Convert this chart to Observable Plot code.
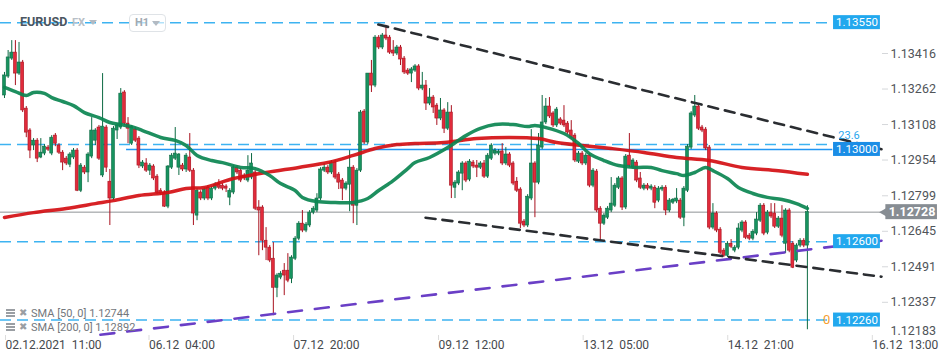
<!DOCTYPE html>
<html><head><meta charset="utf-8">
<script src="https://cdn.jsdelivr.net/npm/d3@7"></script>
<script src="https://cdn.jsdelivr.net/npm/@observablehq/plot@0.6"></script>
<style>
body{margin:0;background:#fff;font-family:Roboto,"Noto Sans",sans-serif;}
#wrap{position:relative;width:950px;height:361px;overflow:hidden;background:#fff;}
.ov{position:absolute;white-space:nowrap;line-height:1;}
.tri{position:absolute;width:0;height:0;border-left:4px solid transparent;border-right:4px solid transparent;border-top:5px solid #b3bac2;}
.h1box{position:absolute;border:1px solid #dfe3e7;border-radius:4px;background:rgba(255,255,255,0.6);}
.ico{position:absolute;width:9px;height:8px;}
.ico i{display:block;height:2px;background:#9a9ea3;margin-bottom:1px;}
</style></head><body>
<div id="wrap">
  <div id="chart"></div>
  <div class="ov" style="left:20px;top:16px;font-weight:700;font-size:12.5px;color:#4b5661;">EURUSD</div>
  <div class="ov" style="left:72px;top:17px;font-weight:700;font-size:11px;color:#b8bfc7;">FX</div>
  <div class="tri" style="left:89px;top:20px;"></div>
  <div class="h1box" style="left:129px;top:14px;width:35px;height:16px;"></div>
  <div class="ov" style="left:135px;top:17px;font-size:11px;font-weight:700;color:#a3aab2;">H1</div>
  <div class="tri" style="left:152px;top:21px;"></div>
  <div class="ico" style="left:6px;top:309px;"><i></i><i></i><i></i></div>
  <div class="ov" style="left:19px;top:308px;font-size:10px;color:#9a9ea3;">✖</div>
  <div class="ov" id="leg1" style="left:31px;top:308px;font-size:11px;color:#73777c;"></div>
  <div class="ico" style="left:6px;top:323px;"><i></i><i></i><i></i></div>
  <div class="ov" style="left:19px;top:322px;font-size:10px;color:#9a9ea3;">✖</div>
  <div class="ov" id="leg2" style="left:31px;top:322px;font-size:11px;color:#73777c;"></div>
</div>
<script>
// ---- candle data (hourly EURUSD) ----
const opens = [
1.13234,1.13316,1.13394,1.13420,1.13329,1.13377,1.13177,1.13082,1.13017,1.13038,
1.12965,1.12982,1.13008,1.12982,1.13060,1.13017,1.12986,1.12960,1.12934,1.12965,
1.12995,1.12821,1.12921,1.12900,1.12969,1.13038,1.13095,1.12887,1.13095,1.12860,
1.12787,1.13082,1.13095,1.13247,1.13112,1.13025,1.13086,1.13047,1.12926,1.12939,
1.12908,1.12926,1.12882,1.12821,1.12813,1.12752,1.12921,1.12960,1.12921,1.12930,
1.12913,1.12965,1.12908,1.12713,1.12813,1.12787,1.12834,1.12787,1.12830,1.12852,
1.12843,1.12839,1.12791,1.12813,1.12921,1.12908,1.12887,1.12865,1.12878,1.12900,
1.12748,1.12748,1.12604,1.12574,1.12526,1.12400,1.12444,1.12474,1.12474,1.12439,
1.12526,1.12613,1.12678,1.12648,1.12670,1.12726,1.12735,1.12787,1.12908,1.12921,
1.12900,1.12943,1.12891,1.12865,1.12830,1.12847,1.12921,1.12756,1.12908,1.13164,
1.13030,1.13329,1.13277,1.13485,1.13442,1.13494,1.13485,1.13429,1.13416,1.13442,
1.13394,1.13342,1.13329,1.13342,1.13360,1.13264,1.13277,1.13199,1.13225,1.13190,
1.13134,1.13169,1.13090,1.13160,1.12834,1.12852,1.12895,1.12939,1.12869,1.12943,
1.12930,1.12921,1.12939,1.12882,1.12960,1.12982,1.12982,1.12991,1.12939,1.12978,
1.12939,1.12860,1.12826,1.12687,1.12670,1.12787,1.12939,1.12856,1.13008,1.13117,
1.13186,1.13156,1.13104,1.13130,1.13125,1.13112,1.13082,1.13060,1.12947,1.12982,
1.12939,1.12973,1.12843,1.12904,1.12743,1.12678,1.12704,1.12735,1.12756,1.12834,
1.12874,1.12748,1.12973,1.12921,1.12943,1.12874,1.12830,1.12843,1.12830,1.12834,
1.12778,1.12826,1.12834,1.12735,1.12769,1.12774,1.12778,1.12704,1.12821,1.13008,
1.13147,1.13186,1.13095,1.13086,1.13008,1.12661,1.12722,1.12652,1.12561,1.12539,
1.12591,1.12561,1.12574,1.12648,1.12683,1.12626,1.12613,1.12635,1.12691,1.12756,
1.12639,1.12726,1.12722,1.12665,1.12700,1.12591,1.12735,1.12591,1.12518,1.12583,
1.12604,1.12583];
const highs = [
1.13334,1.13429,1.13472,1.13472,1.13464,1.13386,1.13186,1.13090,1.13047,1.13047,
1.13047,1.13021,1.13017,1.13060,1.13069,1.13025,1.12995,1.12969,1.12986,1.13004,
1.13004,1.12939,1.12930,1.12986,1.13138,1.13090,1.13104,1.13329,1.13104,1.12913,
1.13099,1.13112,1.13264,1.13255,1.13138,1.13104,1.13095,1.13056,1.12952,1.12960,
1.12939,1.12934,1.12891,1.12830,1.12821,1.12930,1.12982,1.13095,1.12982,1.12939,
1.12982,1.13069,1.12917,1.12830,1.12821,1.12834,1.12843,1.12839,1.12856,1.12869,
1.12852,1.12847,1.12830,1.12930,1.12930,1.12917,1.12895,1.12973,1.12982,1.12908,
1.12778,1.12756,1.12661,1.12583,1.12596,1.12461,1.12470,1.12505,1.12548,1.12539,
1.12622,1.12687,1.12735,1.12683,1.12735,1.12752,1.12808,1.12921,1.12939,1.12930,
1.12952,1.12952,1.12900,1.12874,1.12860,1.12995,1.12930,1.12917,1.13169,1.13173,
1.13329,1.13386,1.13494,1.13494,1.13503,1.13538,1.13494,1.13472,1.13451,1.13451,
1.13403,1.13351,1.13355,1.13368,1.13368,1.13334,1.13299,1.13264,1.13234,1.13199,
1.13221,1.13177,1.13203,1.13190,1.12865,1.12908,1.12947,1.12947,1.12956,1.12952,
1.12952,1.12947,1.12952,1.12982,1.13025,1.13004,1.12999,1.13025,1.13008,1.12986,
1.12947,1.12878,1.12834,1.12696,1.12804,1.13086,1.12947,1.13069,1.13234,1.13221,
1.13225,1.13164,1.13182,1.13138,1.13190,1.13121,1.13125,1.13069,1.12991,1.12991,
1.12982,1.12982,1.12917,1.12913,1.12752,1.12722,1.12752,1.12878,1.12852,1.12882,
1.12882,1.12978,1.13069,1.12960,1.12952,1.12900,1.12852,1.12852,1.12847,1.12843,
1.12839,1.12843,1.12843,1.12787,1.12787,1.12830,1.12787,1.12839,1.13021,1.13164,
1.13234,1.13195,1.13104,1.13095,1.13017,1.12765,1.12730,1.12661,1.12570,1.12600,
1.12609,1.12583,1.12678,1.12691,1.12691,1.12635,1.12652,1.12726,1.12765,1.12765,
1.12735,1.12765,1.12765,1.12709,1.12756,1.12743,1.12743,1.12600,1.12591,1.12613,
1.12613,1.12756];
const lows = [
1.13221,1.13308,1.13386,1.13277,1.13321,1.13160,1.13051,1.12960,1.12995,1.12943,
1.12960,1.12973,1.12991,1.12973,1.13012,1.12978,1.12908,1.12930,1.12921,1.12956,
1.12817,1.12813,1.12891,1.12856,1.12960,1.13017,1.12952,1.12878,1.12900,1.12670,
1.12778,1.13043,1.13086,1.13104,1.13025,1.13017,1.13030,1.12917,1.12917,1.12900,
1.12887,1.12865,1.12804,1.12800,1.12748,1.12743,1.12913,1.12952,1.12887,1.12904,
1.12900,1.12900,1.12670,1.12691,1.12778,1.12778,1.12778,1.12778,1.12821,1.12826,
1.12821,1.12813,1.12756,1.12804,1.12891,1.12856,1.12865,1.12856,1.12869,1.12735,
1.12539,1.12561,1.12518,1.12509,1.12279,1.12357,1.12435,1.12366,1.12422,1.12418,
1.12518,1.12604,1.12639,1.12639,1.12661,1.12717,1.12726,1.12778,1.12900,1.12891,
1.12891,1.12869,1.12826,1.12778,1.12821,1.12730,1.12678,1.12670,1.12900,1.13021,
1.13021,1.13247,1.13268,1.13433,1.13433,1.13472,1.13412,1.13403,1.13407,1.13364,
1.13325,1.13321,1.13290,1.13334,1.13255,1.13255,1.13169,1.13190,1.13156,1.13104,
1.13125,1.13069,1.13082,1.12787,1.12787,1.12843,1.12821,1.12856,1.12860,1.12917,
1.12878,1.12913,1.12874,1.12874,1.12952,1.12973,1.12973,1.12930,1.12930,1.12921,
1.12843,1.12813,1.12657,1.12661,1.12661,1.12778,1.12704,1.12847,1.12999,1.13108,
1.13134,1.13095,1.13095,1.13104,1.13095,1.13064,1.13043,1.12943,1.12939,1.12930,
1.12930,1.12834,1.12834,1.12726,1.12604,1.12670,1.12696,1.12726,1.12748,1.12826,
1.12735,1.12739,1.12921,1.12913,1.12856,1.12826,1.12821,1.12821,1.12821,1.12743,
1.12769,1.12817,1.12713,1.12726,1.12761,1.12765,1.12696,1.12665,1.12813,1.12999,
1.13138,1.13082,1.13073,1.12995,1.12652,1.12652,1.12639,1.12544,1.12531,1.12531,
1.12570,1.12552,1.12565,1.12639,1.12609,1.12604,1.12604,1.12626,1.12683,1.12626,
1.12630,1.12700,1.12657,1.12657,1.12617,1.12548,1.12552,1.12483,1.12509,1.12574,
1.12574,1.12218];
const closes = [
1.13321,1.13399,1.13420,1.13329,1.13377,1.13169,1.13073,1.12995,1.13038,1.12960,
1.12986,1.13012,1.12999,1.13051,1.13025,1.12986,1.12943,1.12939,1.12978,1.12995,
1.12821,1.12930,1.12900,1.12978,1.13082,1.13082,1.12960,1.13099,1.12921,1.12787,
1.13090,1.13104,1.13242,1.13112,1.13090,1.13099,1.13038,1.12930,1.12943,1.12908,
1.12930,1.12874,1.12813,1.12808,1.12752,1.12926,1.12973,1.12982,1.12978,1.12913,
1.12973,1.12908,1.12722,1.12821,1.12787,1.12826,1.12787,1.12830,1.12847,1.12834,
1.12830,1.12830,1.12821,1.12921,1.12900,1.12865,1.12874,1.12908,1.12939,1.12743,
1.12735,1.12604,1.12574,1.12518,1.12400,1.12453,1.12461,1.12453,1.12431,1.12531,
1.12613,1.12678,1.12648,1.12674,1.12726,1.12743,1.12787,1.12913,1.12921,1.12900,
1.12943,1.12878,1.12856,1.12830,1.12852,1.12921,1.12756,1.12908,1.13160,1.13030,
1.13329,1.13277,1.13485,1.13442,1.13494,1.13481,1.13420,1.13416,1.13442,1.13390,
1.13334,1.13329,1.13347,1.13360,1.13264,1.13277,1.13199,1.13225,1.13182,1.13134,
1.13169,1.13090,1.13160,1.12843,1.12856,1.12900,1.12939,1.12865,1.12947,1.12926,
1.12921,1.12939,1.12882,1.12973,1.13017,1.12995,1.12991,1.12939,1.12978,1.12930,
1.12852,1.12821,1.12678,1.12670,1.12795,1.12939,1.12856,1.13017,1.13117,1.13186,
1.13143,1.13104,1.13173,1.13112,1.13104,1.13073,1.13051,1.12952,1.12982,1.12939,
1.12973,1.12843,1.12908,1.12735,1.12678,1.12713,1.12743,1.12765,1.12843,1.12874,
1.12748,1.12969,1.12930,1.12952,1.12865,1.12834,1.12843,1.12830,1.12839,1.12769,
1.12830,1.12834,1.12735,1.12778,1.12782,1.12787,1.12704,1.12830,1.13012,1.13156,
1.13186,1.13090,1.13082,1.13004,1.12661,1.12722,1.12648,1.12552,1.12539,1.12591,
1.12578,1.12574,1.12657,1.12683,1.12617,1.12613,1.12643,1.12696,1.12756,1.12635,
1.12726,1.12709,1.12665,1.12700,1.12626,1.12735,1.12561,1.12487,1.12583,1.12604,
1.12583,1.12728];

// ---- moving averages as drawn (bar index, value) ----
const sma50Idx = [0,3,6,8,11,13,16,19,22,26,29,32,35,38,43,47,50,53,57,60,65,69,73,76,80,82,86,91,96,100,103,107,111,113,117,122,127,131,135,140,144,146,149,154,158,161,165,169,174,178,181,185,187,190,193,195,199,202,206,210,214,218,221];
const sma50Val = [1.13269,1.13251,1.13234,1.13247,1.13243,1.13225,1.13208,1.13190,1.13160,1.13138,1.13117,1.13108,1.13099,1.13082,1.13052,1.13039,1.13017,1.12974,1.12952,1.12943,1.12922,1.12917,1.12887,1.12852,1.12822,1.12792,1.12774,1.12770,1.12770,1.12787,1.12822,1.12865,1.12917,1.12943,1.12965,1.13008,1.13060,1.13091,1.13108,1.13108,1.13099,1.13104,1.13095,1.13069,1.13026,1.12982,1.12952,1.12930,1.12922,1.12922,1.12908,1.12895,1.12887,1.12900,1.12922,1.12908,1.12874,1.12835,1.12809,1.12792,1.12783,1.12765,1.12744];
const sma200Idx = [0,8,17,25,30,37,45,50,55,63,72,81,89,96,102,108,113,121,130,139,147,152,159,167,176,185,194,203,213,221];
const sma200Val = [1.12705,1.12726,1.12744,1.12765,1.12778,1.12800,1.12813,1.12831,1.12835,1.12874,1.12900,1.12922,1.12943,1.12974,1.13004,1.13021,1.13026,1.13030,1.13047,1.13052,1.13047,1.13030,1.13017,1.13004,1.12987,1.12965,1.12952,1.12922,1.12908,1.12892];

// ---- drawn trendlines (bar index, price) ----
const upperTrendIdx = [102.9, 241.4];
const upperTrendVal = [1.13542, 1.13001];
const lowerTrendIdx = [115.9, 241.4];
const lowerTrendVal = [1.12704, 1.12448];
const purpleTrendIdx = [26.4, 241.4];
const purpleTrendVal = [1.12196, 1.12604];

// ---- horizontal levels ----
const dashedLevels = [1.13550, 1.13021, 1.12600, 1.12260];
const solidLevel = 1.13000;
const lastPrice = 1.12728;
const boxedLevels = [1.13550, 1.13000, 1.12600, 1.12260];
const boxedColors = ["#22a8ee", "#1a8de6", "#22a8ee", "#22a8ee"];
const fibLabels = ["23.6", "0"];
const fibLevels = [1.13021, 1.12260];

// ---- axes ----
const yTicks = [1.13416, 1.13262, 1.13108, 1.12954, 1.12799, 1.12645, 1.12491, 1.12337, 1.12183];
const xTickIdx = [0, 39.5, 79.3, 119.2, 159, 198.8, 238.6];
const xTickLabels = ["02.12.2021  11:00", "06.12  04:00", "07.12  20:00", "09.12  12:00", "13.12  05:00", "14.12  21:00", "16.12  13:00"];

const candles = closes.map((c, i) => ({i, o: opens[i], h: highs[i], l: lows[i], c, up: c >= opens[i]}));
const xLabel = new Map(xTickIdx.map((d, i) => [d, xTickLabels[i]]));
const pts = (xs, ys) => xs.map((x, i) => ({x, y: ys[i]}));
const boxes = boxedLevels.map((v, i) => ({v, color: boxedColors[i]}));

const GREEN = "#17935f", GREEN_D = "#0c6a43", RED = "#e12b3b", RED_D = "#a8121f";
const X_END_LINE = 228, BOX_X1 = 228.2, BOX_X2 = 241.1;

document.getElementById("leg1").textContent = `SMA [50,  0] ${sma50Val[sma50Val.length-1].toFixed(5)}`;
document.getElementById("leg2").textContent = `SMA [200,  0] ${sma200Val[sma200Val.length-1].toFixed(5)}`;

const chart = Plot.plot({
  width: 950, height: 361,
  marginLeft: 0, marginRight: 69, marginTop: 0, marginBottom: 26,
  x: {type: "linear", domain: [-1.1, 241.4], axis: null},
  y: {type: "linear", domain: [1.12193, 1.13646], axis: null},
  style: {fontFamily: "Roboto, 'Noto Sans', sans-serif", background: "#fff", overflow: "visible"},
  marks: [
    Plot.ruleY(dashedLevels, {y: d => d, x1: () => -1.1, x2: () => X_END_LINE, stroke: "#3db3f1", strokeWidth: 1.5, strokeDasharray: "11,6"}),
    Plot.ruleY([solidLevel], {y: d => d, x1: () => 33.6, x2: () => X_END_LINE, stroke: "#2196f3", strokeWidth: 1.4}),
    Plot.ruleY([lastPrice], {y: d => d, x1: () => -1.1, x2: () => 241.4, stroke: "#8e9296", strokeWidth: 1}),
    Plot.ruleX(candles, {x: "i", y1: "l", y2: "h", stroke: d => d.up ? GREEN_D : RED_D, strokeWidth: 1}),
    Plot.rect(candles, {x1: d => d.i - 0.4, x2: d => d.i + 0.4, y1: "o", y2: "c", fill: d => d.up ? GREEN : RED, stroke: d => d.up ? GREEN_D : RED_D, strokeWidth: 0.6}),
    Plot.line(pts(sma200Idx, sma200Val), {x: "x", y: "y", curve: "catmull-rom", stroke: "#d40f14", strokeWidth: 3.5, strokeOpacity: 0.92, strokeLinecap: "round"}),
    Plot.line(pts(sma50Idx, sma50Val), {x: "x", y: "y", curve: "catmull-rom", stroke: "#0b8551", strokeWidth: 3.5, strokeOpacity: 0.92, strokeLinecap: "round"}),
    Plot.line(pts(purpleTrendIdx, purpleTrendVal), {x: "x", y: "y", stroke: "#6a3fc6", strokeWidth: 2.6, strokeDasharray: "14,13"}),
    Plot.line(pts(upperTrendIdx, upperTrendVal), {x: "x", y: "y", stroke: "#2a2d31", strokeWidth: 2.6, strokeDasharray: "10,7"}),
    Plot.line(pts(lowerTrendIdx, lowerTrendVal), {x: "x", y: "y", stroke: "#2a2d31", strokeWidth: 2.6, strokeDasharray: "10,7"}),
    Plot.text([fibLabels[0]], {x: () => 229.5, y: () => fibLevels[0], text: d => d, dy: -9, textAnchor: "start", fill: "#2aa6ee", fontSize: 11}),
    Plot.text([fibLabels[1]], {x: () => 225.3, y: () => fibLevels[1], text: d => d, textAnchor: "start", fill: "#f5a030", fontSize: 13}),
    Plot.rect(boxes, {x1: () => BOX_X1, x2: () => BOX_X2, y1: "v", y2: "v", insetTop: -7, insetBottom: -7, fill: "color"}),
    Plot.text(boxes, {x: () => (BOX_X1 + BOX_X2) / 2, y: "v", text: d => d.v.toFixed(5), fill: "white", fontSize: 11.5}),
    Plot.rect([lastPrice], {x1: () => 242.6, x2: () => 256.8, y1: d => d, y2: d => d, insetTop: -7.5, insetBottom: -7.5, fill: "#878d93"}),
    Plot.dot([lastPrice], {x: () => 242.8, y: d => d, symbol: "triangle2", r: 6.2, rotate: -90, fill: "#878d93", stroke: null}),
    Plot.text([lastPrice], {x: () => 249.8, y: d => d, text: d => d.toFixed(5), fill: "white", fontSize: 12.5, fontWeight: "bold"}),
    Plot.axisY(yTicks.slice(0, -1), {anchor: "right", tickSize: 6, tickPadding: 3, tickFormat: d => d.toFixed(5), fontSize: 12.5, fill: "#505459", stroke: "#d5d7da"}),
    Plot.text(yTicks.slice(-1), {x: () => 241.4, y: d => d, text: d => d.toFixed(5), dx: 9, dy: -7, textAnchor: "start", fontSize: 12.5, fill: "#505459"}),
    Plot.axisX(xTickIdx, {anchor: "bottom", tickSize: 5, tickPadding: 0, tickFormat: d => xLabel.get(d), textAnchor: "start", dx: 1, fontSize: 12, fill: "#46494d", stroke: "#dcdcdc"})
  ]
});
document.getElementById("chart").appendChild(chart);
</script>
</body></html>
